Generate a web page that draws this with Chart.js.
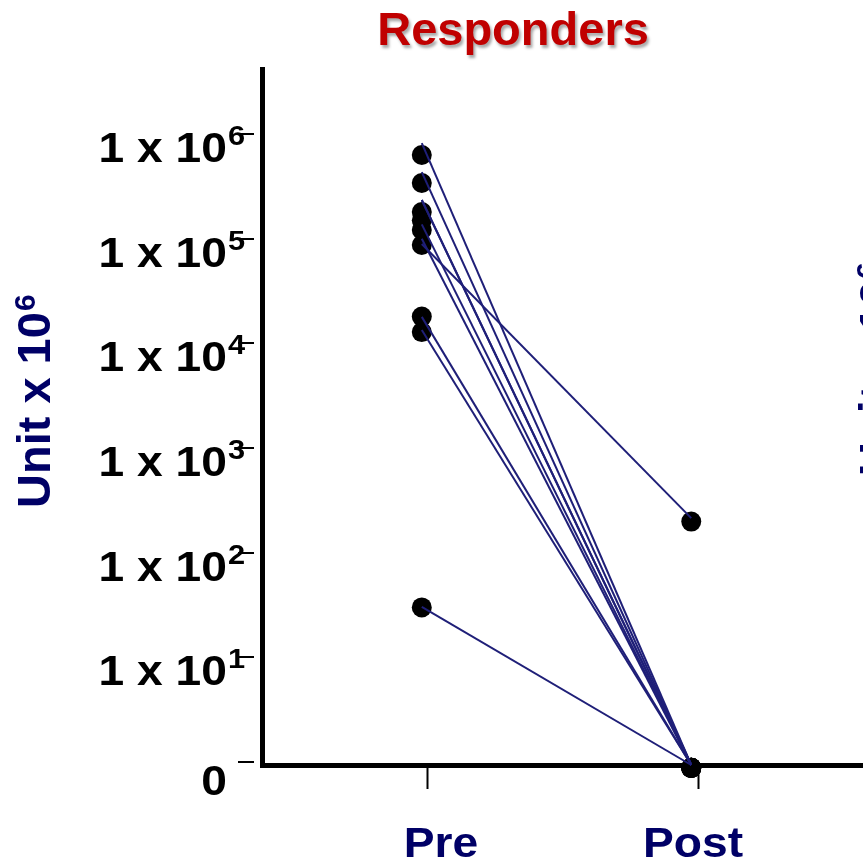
<!DOCTYPE html>
<html>
<head>
<meta charset="utf-8">
<script src="https://cdn.jsdelivr.net/npm/chart.js@4/dist/chart.umd.min.js"></script>
<style>
  html, body { margin: 0; padding: 0; background: #ffffff; }
  #wrap { width: 863px; height: 865px; overflow: hidden; }
</style>
</head>
<body>
<div id="wrap"><canvas id="c" width="863" height="865"></canvas></div>
<script>
// ---------------- data ----------------
const chartTitle = 'Responders';
const categories = ['Pre', 'Post'];
const categoryPositions = [1, 2];
const yTitleBase = 'Unit x 10';
const yTitleSup = '6';

// y tick labels (log axis; "0" sits at the 10^0 position)
const yTickValues = [1e6, 1e5, 1e4, 1e3, 1e2, 1e1, 1];
const yTickBase   = ['1 x 10', '1 x 10', '1 x 10', '1 x 10', '1 x 10', '1 x 10', '0'];
const yTickSup    = ['6', '5', '4', '3', '2', '1', ''];

// subject dots
const preValues  = [6.3e5, 3.4e5, 1.8e5, 1.5e5, 1.21e5, 8.7e4, 1.8e4, 1.28e4, 30];
const postValues = [0.88, 0.88, 0.88, 0.88, 0.88, 198, 0.88, 0.88, 0.88];

// connecting lines (as drawn in the figure)
const lineStartValues = [8.2e5, 4.33e5, 2.34e5, 2.34e5, 1.37e5, 1.0e5, 8.9e4, 1.79e4, 1.34e4, 30.3];
const lineEndValues   = [0.936, 0.936, 0.936, 0.936, 0.936, 0.936, 214, 0.936, 0.936, 0.936];

// horizontal placement of the plotted marks (category units)
const preX = 0.977;
const postX = 1.975;

// ---------------- styling ----------------
const FONT = '"Liberation Sans", Arial, Helvetica, sans-serif';
const NAVY = '#000066';
const LINE_NAVY = '#1f1f78';
const TITLE_RED = '#c00000';

const datasets = [];
const dotData = [];
preValues.forEach(v => dotData.push({x: preX, y: v}));
postValues.forEach(v => dotData.push({x: postX, y: v}));
datasets.push({
  type: 'scatter',
  data: dotData,
  pointRadius: 10,
  pointHoverRadius: 10,
  pointBackgroundColor: '#000000',
  pointBorderWidth: 0,
  showLine: false,
  order: 10,
  clip: false
});
lineStartValues.forEach((s, i) => {
  datasets.push({
    type: 'line',
    data: [{x: preX, y: s}, {x: postX, y: lineEndValues[i]}],
    borderColor: LINE_NAVY,
    borderWidth: 2,
    pointRadius: 0,
    pointHoverRadius: 0,
    fill: false,
    tension: 0,
    order: 1,
    clip: false
  });
});

function stretchedText(ctx, text, x, y, align, sx) {
  ctx.save();
  ctx.translate(x, y);
  ctx.scale(sx, 1);
  ctx.textAlign = align;
  ctx.fillText(text, 0, 0);
  ctx.restore();
}

function drawYTitle(ctx, bx, by) {
  ctx.save();
  ctx.translate(bx, by);
  ctx.rotate(-Math.PI / 2);
  ctx.fillStyle = NAVY;
  ctx.textBaseline = 'alphabetic';
  ctx.textAlign = 'left';
  ctx.font = 'bold 47px ' + FONT;
  ctx.fillText(yTitleBase, 0, 0);
  const w = ctx.measureText(yTitleBase).width;
  ctx.font = 'bold 30px ' + FONT;
  ctx.fillText(yTitleSup, w + 1, -15);
  ctx.restore();
}

const decor = {
  id: 'decor',
  afterDraw(chart) {
    const ctx = chart.ctx;
    const ys = chart.scales.y;
    const xs = chart.scales.x;
    // title
    ctx.save();
    ctx.font = 'bold 47px ' + FONT;
    ctx.fillStyle = TITLE_RED;
    ctx.textAlign = 'center';
    ctx.textBaseline = 'alphabetic';
    ctx.shadowColor = 'rgba(0,0,0,0.35)';
    ctx.shadowOffsetX = 2;
    ctx.shadowOffsetY = 3;
    ctx.shadowBlur = 3;
    ctx.fillText(chartTitle, 513, 45);
    ctx.restore();

    // y tick labels + tick marks
    ctx.save();
    ctx.fillStyle = '#000000';
    ctx.strokeStyle = '#000000';
    ctx.lineWidth = 2;
    ctx.textBaseline = 'alphabetic';
    yTickValues.forEach((v, i) => {
      const py = ys.getPixelForValue(v);
      ctx.font = 'bold 42px ' + FONT;
      if (yTickSup[i]) {
        stretchedText(ctx, yTickBase[i], 227, py + 28, 'right', 1.1);
        ctx.font = 'bold 28px ' + FONT;
        stretchedText(ctx, yTickSup[i], 228, py + 11, 'left', 1.1);
      } else {
        stretchedText(ctx, yTickBase[i], 227, py + 33, 'right', 1.1);
      }
      ctx.beginPath();
      ctx.moveTo(238, Math.round(py));
      ctx.lineTo(254, Math.round(py));
      ctx.stroke();
    });
    ctx.restore();

    // x category labels
    ctx.save();
    ctx.fillStyle = NAVY;
    ctx.font = 'bold 42px ' + FONT;
    ctx.textBaseline = 'alphabetic';
    const labelShift = [13, -5];
    categories.forEach((c, i) => {
      const px = xs.getPixelForValue(categoryPositions[i]) + labelShift[i];
      stretchedText(ctx, c, px, 857, 'center', 1.1);
    });
    ctx.restore();

    // y axis titles (left, and the neighbouring panel's, cut at the edge)
    drawYTitle(ctx, 50, 508);
    drawYTitle(ctx, 892, 476);
  }
};

new Chart(document.getElementById('c'), {
  type: 'scatter',
  data: { datasets },
  plugins: [decor],
  options: {
    responsive: false,
    animation: false,
    events: [],
    layout: { autoPadding: false, padding: { top: 69, left: 0, right: 0, bottom: 0 } },
    plugins: { legend: { display: false }, tooltip: { enabled: false }, title: { display: false } },
    scales: {
      x: {
        type: 'linear',
        bounds: 'data',
        min: 0.3852,
        max: 2.6111,
        afterFit(s) { s.height = 100; },
        afterBuildTicks(s) { s.ticks = categoryPositions.map(v => ({ value: v })); },
        ticks: { display: false },
        grid: { display: true, drawOnChartArea: false, drawTicks: true, tickLength: 24, tickWidth: 2, tickColor: '#000000' },
        border: { display: true, width: 5, color: '#000000' }
      },
      y: {
        type: 'logarithmic',
        bounds: 'data',
        min: 0.936,
        max: 4.18e6,
        afterFit(s) { s.width = 262; },
        ticks: { display: false },
        grid: { display: false },
        border: { display: true, width: 5, color: '#000000' }
      }
    }
  }
});
</script>
</body>
</html>
